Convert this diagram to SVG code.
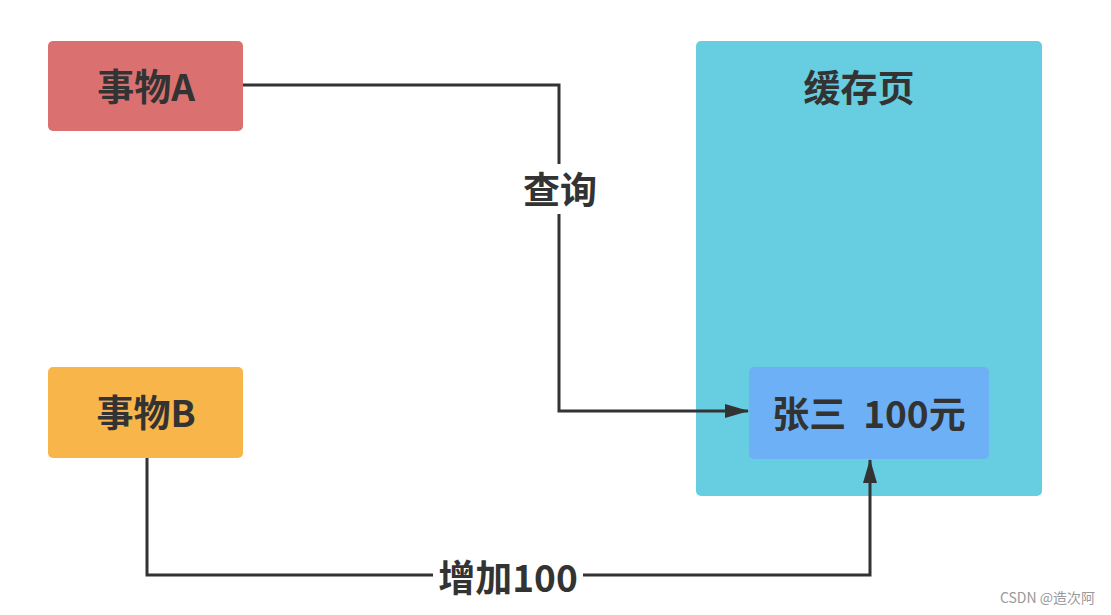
<svg xmlns="http://www.w3.org/2000/svg" width="1111" height="615" viewBox="0 0 1111 615">
<style>
.t{font-family:"Noto Sans CJK SC","Noto Sans",sans-serif;font-weight:bold;fill:#333333;text-anchor:middle;dominant-baseline:central;font-size:37px}
.c{fill:none;stroke:#333333;stroke-width:3}
</style>
<defs>
<marker id="ah" markerWidth="24" markerHeight="14" refX="23" refY="7" orient="auto" markerUnits="userSpaceOnUse" viewBox="0 0 24 14">
<path d="M0,0 L24,7 L0,14 Z" fill="#333333"/>
</marker>
</defs>
<rect width="1111" height="615" fill="#ffffff"/>
<g id="cache">
<rect x="696" y="41" width="346" height="455" rx="5" fill="#67CDE0"/>
<text class="t" x="859" y="86">缓存页</text>
</g>
<g id="nodeA">
<rect x="48" y="41" width="195" height="90" rx="5" fill="#DA7170"/>
<text class="t" x="146" y="85">事物A</text>
</g>
<g id="nodeB">
<rect x="48" y="367" width="195" height="91" rx="5" fill="#F8B54A"/>
<text class="t" x="146" y="411">事物B</text>
</g>
<g id="record">
<rect x="749" y="367" width="240" height="92" rx="5" fill="#6DB0F6"/>
<text class="t" x="869" y="412" xml:space="preserve">张三  100元</text>
</g>
<g id="connectors">
<path class="c" d="M243,85 H559 V411 H748" marker-end="url(#ah)"/>
<path class="c" d="M147,458 V575 H870 V460" marker-end="url(#ah)"/>
<rect x="518" y="164" width="84" height="50" fill="#ffffff"/>
<text class="t" x="560" y="188">查询</text>
<rect x="433" y="555" width="150" height="44" fill="#ffffff"/>
<text class="t" x="508" y="576">增加100</text>
</g>
<text x="1095" y="603" font-family="Noto Sans CJK SC, sans-serif" font-size="14" fill="#999999" text-anchor="end">CSDN @造次阿</text>
</svg>
